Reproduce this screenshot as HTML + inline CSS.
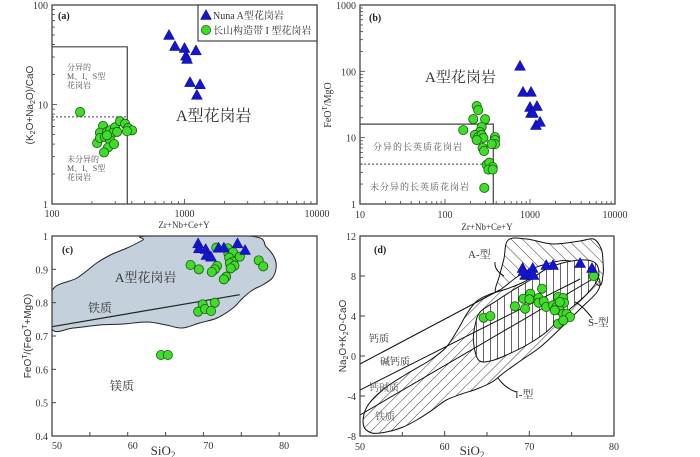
<!DOCTYPE html>
<html><head><meta charset="utf-8">
<style>
html,body{margin:0;padding:0;background:#fff;}
svg{display:block;font-family:"Liberation Serif","Noto Serif CJK SC","Noto Sans CJK SC",serif;}
</style></head>
<body>
<svg id="fig" width="700" height="457" viewBox="0 0 700 457" xmlns="http://www.w3.org/2000/svg">
<defs>
<pattern id="hatchI" patternUnits="userSpaceOnUse" width="7" height="7" patternTransform="rotate(45)"><line x1="0" y1="0" x2="0" y2="7" stroke="#222" stroke-width="0.9"/></pattern>
<pattern id="hatchS" patternUnits="userSpaceOnUse" width="7" height="7"><line x1="0" y1="0" x2="0" y2="7" stroke="#111" stroke-width="1.3"/></pattern>
<pattern id="hatchA" patternUnits="userSpaceOnUse" width="8" height="8" patternTransform="rotate(-45)"><line x1="0" y1="0" x2="0" y2="8" stroke="#222" stroke-width="0.9"/></pattern>
<clipPath id="clipc"><rect x="52" y="236" width="265" height="200"/></clipPath>
</defs>
<g id="layer"></g>
</svg>
<script>
// ---------- Panel (a) data ----------
var aTriX=[764,847,1000,1220,1026,1045,1100,1310,1240];
var aTriY=[50,38.7,37,35,31,28.7,16.8,16,12.5];
var aCirX=[243,230,219,230,260,251,274,299,326,356,375,402,368,289,274,265,247,294,260,310,163];
var aCirY=[6.1,5.2,4.1,4.6,5.3,4.7,5.5,5.9,6.8,6.4,5.8,5.5,5.4,5.2,4.4,3.7,3.3,4.0,4.9,5.3,8.4];
var aXTicks=[100,1000,10000];
var aYTicks=[1,10,100];
// ---------- Panel (b) data ----------
var bTriX=[763,827,1028,1000,1208,1028,1085,1175,1312];
var bTriY=[121,49,49,29,30,23.6,23.6,15.5,17.3];
var bCirX=[236,246,215,296,164,270,258,225,246,270,283,236,387,387,387,354,277,288,309,332,364,324,364,290];
var bCirY=[30,26,19,19,13,14.5,12.2,11,10.2,11,9.9,9.2,10.2,9.2,8,8,7,6.3,3.9,4.2,3.6,3.3,3.3,1.75];
var bXTicks=[10,100,1000,10000];
var bYTicks=[1,10,100,1000];
// ---------- Panel (c) data ----------
var cTriX=[69.3,69.4,70.3,70.4,71.0,72.0,72.7,74.5,75.5];
var cTriY=[0.978,0.963,0.961,0.943,0.938,0.965,0.965,0.978,0.958];
var cCirX=[71.7,73.2,73.3,73.9,73.4,73.9,74.8,73.5,74.1,73.6,68.3,69.4,71.8,71.5,71.1,73.0,72.7,77.3,77.9,69.9,71.5,69.3,70.2,71.0,64.4,65.3];
var cCirY=[0.965,0.963,0.948,0.951,0.935,0.923,0.938,0.918,0.911,0.903,0.913,0.900,0.910,0.900,0.892,0.878,0.870,0.927,0.909,0.795,0.800,0.773,0.781,0.775,0.643,0.643];
var cXTicks=[50,60,70,80];
var cYTicks=[0.4,0.5,0.6,0.7,0.8,0.9,1];
var cFieldX=[50,53.3,55.9,57.7,59.9,62.0,62.7,76.1,78.3,79.4,79.6,79.1,77.8,76.5,75.2,73.9,71.8,69.5,67.2,65.1,62.6,59.4,56.3,52.8,50];
var cFieldY=[0.836,0.874,0.919,0.943,0.964,0.988,1.0,1.0,0.967,0.934,0.904,0.874,0.853,0.838,0.814,0.784,0.754,0.739,0.724,0.733,0.742,0.736,0.733,0.724,0.721];
// ---------- Panel (d) data ----------
var dTriX=[69.2,69.5,69.9,70.4,70.5,72.0,72.8,76.0,77.4,69.3];
var dTriY=[8.8,8.1,8.2,8.8,8.1,9.1,9.1,9.3,8.8,8.5];
var dCirX=[64.6,65.4,68.3,69.3,70.1,70.0,69.5,71.1,71.1,71.5,71.7,72.0,72.8,73.4,74.0,74.1,73.2,73.6,74.0,74.4,74.8,73.4,74.0,77.6,73.0,73.6];
var dCirY=[3.83,4.0,4.97,5.73,6.23,5.67,4.73,5.8,5.33,6.73,5.47,4.9,5.07,5.9,5.8,5.33,4.9,4.57,4.23,4.23,3.9,3.23,3.57,8.0,4.57,5.4];
var dXTicks=[50,60,70,80];
var dYTicks=[-8,-4,0,4,8,12];
var dIX=[50.4,50.8,52.8,55.5,58.3,60.2,61.6,62.6,63.8,65.4,67.3,69.1,70.9,72.8,75.2,77.2,78.3,78.0,76.0,73.6,71.3,69.1,67.1,65.6,63.8,62.0,60.2,58.7,56.9,55.1,53.1,51.4];
var dIY=[-6.9,-5.1,-3.3,-1.8,-0.4,0.9,2.7,4.2,5.5,6.2,6.7,7.3,8.1,8.6,8.9,8.6,7.6,6.4,4.7,2.7,0.9,-0.4,-1.6,-2.6,-3.3,-3.8,-4.4,-5.3,-6.3,-7.1,-7.6,-7.7];
var dSX=[64.0,63.4,63.6,64.2,66.1,68.1,70.1,72.0,74.4,76.8,78.0,78.1,76.8,74.4,72.0,69.7,67.3,65.4];
var dSY=[-0.4,1.4,3.1,4.4,5.5,6.6,7.6,8.7,9.4,9.6,9.1,7.7,6.2,4.4,2.4,1.1,0.1,-0.5];
var dAX=[66.1,66.5,67.0,67.5,69.7,72.8,76.0,77.6,78.5,78.7,78.7,78.1,75.2,72.0,68.9];
var dAY=[6.4,8.1,9.7,11.6,11.7,11.2,11.5,11.7,10.7,9.4,8.1,7.1,9.4,9.2,8.1];
var dLineX0=[50,50,50], dLineY0=[-0.8,-3.4,-5.9];
var dLineX1=[66.5,76.0,78.3], dLineY1=[6.6,7.7,8.1];

var NS='http://www.w3.org/2000/svg';
var layer=document.getElementById('layer');
function mk(tag,attrs,parent){var e=document.createElementNS(NS,tag);for(var k in attrs)e.setAttribute(k,attrs[k]);(parent||layer).appendChild(e);return e;}
function txt(x,y,s,size,anchor,parent,extra){var e=mk('text',{x:x,y:y,'font-size':size,'text-anchor':anchor||'start',fill:'#333'},parent);if(extra)for(var k in extra)e.setAttribute(k,extra[k]);e.textContent=s;return e;}
function logScale(d0,d1,p0,p1){return function(v){return p0+(Math.log10(v)-Math.log10(d0))/(Math.log10(d1)-Math.log10(d0))*(p1-p0);};}
function linScale(d0,d1,p0,p1){return function(v){return p0+(v-d0)/(d1-d0)*(p1-p0);};}
function tri(g,x,y){var e=mk('polygon',{points:(x)+','+(y-5.5)+' '+(x-5.5)+','+(y+4.5)+' '+(x+5.5)+','+(y+4.5),fill:'#1515d0',stroke:'#0a0a80','stroke-width':0.5},g);

}
function cir(g,x,y){var e=mk('circle',{cx:x,cy:y,r:4.6,fill:'#3fdc2a',stroke:'#1a5a10','stroke-width':0.8},g);

}
function frame(g,x0,y0,x1,y1){mk('rect',{x:x0,y:y0,width:x1-x0,height:y1-y0,fill:'none',stroke:'#444','stroke-width':1.3},g);}
function smoothPath(xs,ys,sx,sy){var P=[];for(var i=0;i<xs.length;i++)P.push([sx(xs[i]),sy(ys[i])]);var n=P.length,d='M'+P[0][0].toFixed(1)+','+P[0][1].toFixed(1);
for(var i=0;i<n;i++){var p0=P[(i-1+n)%n],p1=P[i],p2=P[(i+1)%n],p3=P[(i+2)%n];
d+=' C'+(p1[0]+(p2[0]-p0[0])/6).toFixed(1)+','+(p1[1]+(p2[1]-p0[1])/6).toFixed(1)+' '+(p2[0]-(p3[0]-p1[0])/6).toFixed(1)+','+(p2[1]-(p3[1]-p1[1])/6).toFixed(1)+' '+p2[0].toFixed(1)+','+p2[1].toFixed(1);}
return d+'Z';}
function minorLog(g,sx,sy,xt,yt,x0,y0,x1,y1){
 for(var i=0;i<xt.length-1;i++)for(var m=1;m<10;m++){var v=xt[i]*m,x=sx(v);var L=m==1?5:3;mk('line',{x1:x,y1:y1,x2:x,y2:y1-L,stroke:'#444','stroke-width':0.8},g);}
 for(var i=0;i<yt.length-1;i++)for(var m=1;m<10;m++){var v=yt[i]*m,y=sy(v);var L=m==1?5:3;mk('line',{x1:x0,y1:y,x2:x0+L,y2:y,stroke:'#444','stroke-width':0.8},g);}
}

// ===== Panel a =====
(function(){
 var g=mk('g',{});
 var X0=52,X1=317,Y0=5,Y1=204;
 var sx=logScale(100,10000,X0,X1), sy=logScale(1,100,Y1,Y0);
 frame(g,X0,Y0,X1,Y1);
 minorLog(g,sx,sy,aXTicks,aYTicks,X0,Y0,X1,Y1);
 aXTicks.forEach(function(t){var e=txt(sx(t),217,String(t),10,'middle',g);});
 aYTicks.forEach(function(t){var e=txt(X0-4,sy(t)+4,String(t),10,'end',g);});
 mk('polyline',{points:X0+','+sy(38)+' '+sx(370)+','+sy(38)+' '+sx(370)+','+Y1,fill:'none',stroke:'#444','stroke-width':1.2},g);
 mk('line',{x1:X0,y1:sy(7.5),x2:sx(370),y2:sy(7.5),stroke:'#444','stroke-width':1,'stroke-dasharray':'2,2'},g);
 var f=function(lines,y){lines.forEach(function(s,i){txt(67,y+i*9,s,8,'start',g,{fill:'#555'});});};
 f(['分异的','M、I、S型','花岗岩'],70); f(['未分异的','M、I、S型','花岗岩'],162);
 var t=txt(176,121,'A型花岗岩',16,'start',g);
 var lab=txt(184,228,'Zr+Nb+Ce+Y',9,'middle',g);
 var yl=txt(0,0,'',10,'middle',g,{transform:'translate(33,105) rotate(-90)','font-family':'Liberation Sans, sans-serif'});
 yl.innerHTML='(K<tspan font-size="7" dy="2">2</tspan><tspan dy="-2">O+Na</tspan><tspan font-size="7" dy="2">2</tspan><tspan dy="-2">O)/CaO</tspan>';
 
 txt(58,19,'(a)',10,'start',g,{'font-weight':'bold',fill:'#222'});
 for(var i=0;i<aCirX.length;i++)cir(g,sx(aCirX[i]),sy(aCirY[i]));
 for(var i=0;i<aTriX.length;i++)tri(g,sx(aTriX[i]),sy(aTriY[i]));
 var lg=mk('g',{},g);
 mk('rect',{x:198,y:5,width:119,height:36,fill:'#fff',stroke:'#444','stroke-width':1.2},lg);
 tri(lg,206,15);txt(213,19,'Nuna A型花岗岩',10,'start',lg);
 cir(lg,206,30);txt(213,34,'长山构造带 I 型花岗岩',10,'start',lg);
})();

// ===== Panel b =====
(function(){
 var g=mk('g',{});
 var X0=360,X1=615,Y0=5,Y1=204;
 var sx=logScale(10,10000,X0,X1), sy=logScale(1,1000,Y1,Y0);
 frame(g,X0,Y0,X1,Y1);
 minorLog(g,sx,sy,bXTicks,bYTicks,X0,Y0,X1,Y1);
 bXTicks.forEach(function(t){var e=txt(sx(t),218,String(t),10,'middle',g);});
 bYTicks.forEach(function(t){var e=txt(X0-4,sy(t)+4,String(t),10,'end',g);});
 mk('polyline',{points:X0+','+sy(16)+' '+sx(370)+','+sy(16)+' '+sx(370)+','+Y1,fill:'none',stroke:'#444','stroke-width':1.2},g);
 mk('line',{x1:X0,y1:sy(4),x2:sx(370),y2:sy(4),stroke:'#444','stroke-width':1,'stroke-dasharray':'2,2'},g);
 txt(373,150,'分异的长英质花岗岩',9,'start',g,{fill:'#555','letter-spacing':'1'});
 txt(370,190,'未分异的长英质花岗岩',9,'start',g,{fill:'#555','letter-spacing':'1'});
 var t=txt(425,82,'A型花岗岩',15,'start',g);
 var lab=txt(487,230,'Zr+Nb+Ce+Y',9,'middle',g);
 var yl=txt(0,0,'',10,'middle',g,{transform:'translate(331,105) rotate(-90)'});
 yl.innerHTML='FeO<tspan font-size="7" dy="-4">T</tspan><tspan dy="4">/MgO</tspan>';
 
 txt(369,21,'(b)',10,'start',g,{'font-weight':'bold',fill:'#222'});
 for(var i=0;i<bCirX.length;i++)cir(g,sx(bCirX[i]),sy(bCirY[i]));
 for(var i=0;i<bTriX.length;i++)tri(g,sx(bTriX[i]),sy(bTriY[i]));
})();

// ===== Panel c =====
(function(){
 var g=mk('g',{});
 var X0=52,X1=317,Y0=236,Y1=436;
 var sx=linScale(50,85,X0,X1), sy=linScale(0.4,1,Y1,Y0);
 var cg=mk('g',{'clip-path':'url(#clipc)'},g);
 var fld=mk('path',{d:smoothPath(cFieldX,cFieldY,sx,sy),fill:'#c4d0dc',stroke:'#222','stroke-width':1},cg);
 
 mk('line',{x1:sx(50),y1:sy(0.728),x2:sx(74.8),y2:sy(0.824),stroke:'#222','stroke-width':1.2},g);
 frame(g,X0,Y0,X1,Y1);
 for(var v=55;v<85;v+=5){mk('line',{x1:sx(v),y1:Y1,x2:sx(v),y2:Y1-4,stroke:'#444'},g);}
 cXTicks.forEach(function(t){var e=txt(sx(t)+5,449,String(t),10,'middle',g);});
 cYTicks.forEach(function(t){mk('line',{x1:X0,y1:sy(t),x2:X0+4,y2:sy(t),stroke:'#444'},g);var e=txt(X0-4,sy(t)+4,String(t),10,'end',g);});
 var t=txt(115,282,'A型花岗岩',13,'start',g);
 txt(88,312,'铁质',12,'start',g);txt(110,390,'镁质',12,'start',g);
 var lab=txt(163,455,'',13,'middle',g);lab.innerHTML='SiO<tspan font-size="9" dy="3">2</tspan>';
 
 var yl=txt(0,0,'',10,'middle',g,{transform:'translate(31,336) rotate(-90)','font-family':'Liberation Sans, sans-serif'});
 yl.innerHTML='FeO<tspan font-size="7" dy="-4">T</tspan><tspan dy="4">/(FeO</tspan><tspan font-size="7" dy="-4">T</tspan><tspan dy="4">+MgO)</tspan>';
 
 txt(62,253,'(c)',10,'start',g,{'font-weight':'bold',fill:'#222'});
 for(var i=0;i<cCirX.length;i++)cir(g,sx(cCirX[i]),sy(cCirY[i]));
 for(var i=0;i<cTriX.length;i++)tri(g,sx(cTriX[i]),sy(cTriY[i]));
})();

// ===== Panel d =====
(function(){
 var g=mk('g',{});
 var X0=360,X1=614,Y0=236,Y1=436;
 var sx=linScale(50,80,X0,X1), sy=linScale(-8,12,Y1,Y0);
 var cp=mk('clipPath',{id:'clipd'},g);mk('rect',{x:X0,y:Y0,width:X1-X0,height:Y1-Y0},cp);
 var inner=mk('g',{'clip-path':'url(#clipd)'},g);
 var fI=mk('path',{d:smoothPath(dIX,dIY,sx,sy),fill:'url(#hatchI)',stroke:'#111','stroke-width':1},inner);
 
 var fA=mk('path',{d:smoothPath(dAX,dAY,sx,sy),fill:'url(#hatchA)',stroke:'#111','stroke-width':1},inner);
 
 mk('path',{d:smoothPath(dSX,dSY,sx,sy),fill:'#fff',stroke:'none'},inner);
 var fS2=mk('path',{d:smoothPath(dSX,dSY,sx,sy),fill:'url(#hatchS)',stroke:'#111','stroke-width':1},inner);
 
 for(var i=0;i<dLineX0.length;i++){var l=mk('line',{x1:sx(dLineX0[i]),y1:sy(dLineY0[i]),x2:sx(dLineX1[i]),y2:sy(dLineY1[i]),stroke:'#111','stroke-width':1},inner);
  }
 frame(g,X0,Y0,X1,Y1);
 for(var v=55;v<80;v+=10){mk('line',{x1:sx(v),y1:Y1,x2:sx(v),y2:Y1-4,stroke:'#444'},g);}
 dXTicks.forEach(function(t){mk('line',{x1:sx(t),y1:Y1,x2:sx(t),y2:Y1-5,stroke:'#444'},g);var e=txt(sx(t),450,String(t),10,'middle',g);});
 dYTicks.forEach(function(t){mk('line',{x1:X0,y1:sy(t),x2:X0+5,y2:sy(t),stroke:'#444'},g);var e=txt(X0-4,sy(t)+4,String(t),10,'end',g);});
 txt(369,342,'钙质',10,'start',g);txt(380,365,'碱钙质',10,'start',g);txt(369,391,'钙碱质',10,'start',g,{fill:'#555'});txt(375,420,'铁质',10,'start',g,{fill:'#555'});
 txt(468,258,'A-型',11,'start',g);txt(588,326,'S-型',11,'start',g);txt(515,398,'I-型',11,'start',g);
 mk('path',{d:'M495,262 Q494,270 504,276',fill:'none',stroke:'#111'},g);
 mk('path',{d:'M592,318 Q582,305 575,302',fill:'none',stroke:'#111'},g);
 mk('path',{d:'M516,392 Q505,388 498,378',fill:'none',stroke:'#111'},g);
 var lab=txt(472,455,'',13,'middle',g);lab.innerHTML='SiO<tspan font-size="9" dy="3">2</tspan>';
 
 var yl=txt(0,0,'',10,'middle',g,{transform:'translate(346,336) rotate(-90)','font-family':'Liberation Sans, sans-serif'});
 yl.innerHTML='Na<tspan font-size="7" dy="2">2</tspan><tspan dy="-2">O+K</tspan><tspan font-size="7" dy="2">2</tspan><tspan dy="-2">O-CaO</tspan>';
 
 txt(374,253,'(d)',10,'start',g,{'font-weight':'bold',fill:'#222'});
 for(var i=0;i<dCirX.length;i++)cir(g,sx(dCirX[i]),sy(dCirY[i]));
 for(var i=0;i<dTriX.length;i++)tri(g,sx(dTriX[i]),sy(dTriY[i]));
})();
</script>
</body></html>
